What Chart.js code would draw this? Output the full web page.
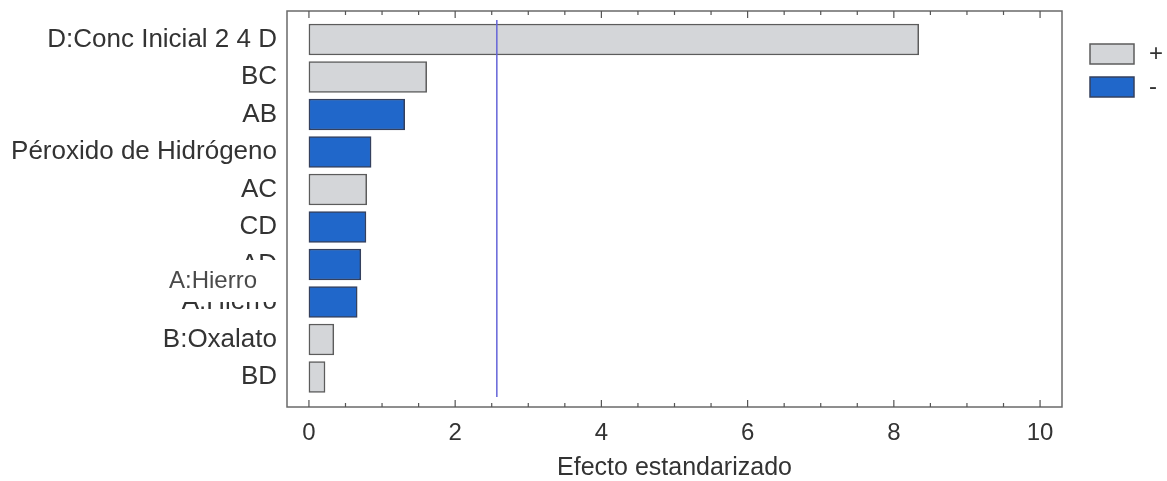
<!DOCTYPE html>
<html>
<head>
<meta charset="utf-8">
<script src="https://cdn.jsdelivr.net/npm/chart.js@4/dist/chart.umd.min.js"></script>
<style>
  html, body { margin: 0; padding: 0; background: #ffffff; }
  #wrap { width: 1167px; height: 481px; }
</style>
</head>
<body>
<div id="wrap"><canvas id="chart" width="1167" height="481"></canvas></div>
<script>
// Diagrama de Pareto estandarizado
const categories = [
  'D:Conc Inicial 2 4 D', 'BC', 'AB', 'Péroxido de Hidrógeno', 'AC',
  'CD', 'AD', 'A:Hierro', 'B:Oxalato', 'BD'
];
const effects = [8.34, 1.61, 1.31, 0.85, 0.79, 0.78, 0.71, 0.66, 0.34, 0.22];
const signs   = ['+', '+', '-', '-', '+', '-', '-', '-', '+', '+'];
const criticalValue = 2.57;
const xTickValues = [0, 2, 4, 6, 8, 10];
const xMinorStep = 0.5;
const legendLabels = ['+', '-'];
const axisTitle = 'Efecto estandarizado';
const overlayLabel = 'A:Hierro';

const FONT = "'Liberation Sans', Arial, sans-serif";
const GRAY = '#d4d6d9', GRAY_EDGE = '#5c5c5c';
const BLUE = '#2067ca', BLUE_EDGE = '#34405e';

function pointsFor(sign) {
  return effects
    .map((v, i) => ({ x: v, y: i, s: signs[i] }))
    .filter(p => p.s === sign)
    .map(p => ({ x: p.x, y: p.y }));
}

// Marco, marcas internas y línea del valor crítico
const framePlugin = {
  id: 'frame',
  afterDatasetsDraw(chart) {
    const { ctx, chartArea: a, scales: { x } } = chart;
    ctx.save();
    // línea vertical del valor crítico
    const cx = x.getPixelForValue(criticalValue);
    ctx.strokeStyle = '#6464d8';
    ctx.lineWidth = 1.5;
    ctx.beginPath();
    ctx.moveTo(cx, a.top + 9);
    ctx.lineTo(cx, a.bottom - 10);
    ctx.stroke();
    // marco
    ctx.strokeStyle = '#6a6a6a';
    ctx.lineWidth = 1.5;
    ctx.strokeRect(a.left, a.top, a.right - a.left, a.bottom - a.top);
    // marcas hacia dentro, arriba y abajo
    ctx.lineWidth = 1.2;
    ctx.strokeStyle = '#555';
    const first = xTickValues[0], last = xTickValues[xTickValues.length - 1];
    for (let v = first; v <= last + 1e-9; v += xMinorStep) {
      const px = x.getPixelForValue(v);
      const major = xTickValues.some(t => Math.abs(t - v) < 1e-9);
      const len = major ? 7 : 4;
      ctx.beginPath();
      ctx.moveTo(px, a.bottom);
      ctx.lineTo(px, a.bottom - len);
      ctx.moveTo(px, a.top);
      ctx.lineTo(px, a.top + len);
      ctx.stroke();
    }
    ctx.restore();
  },
  afterDraw(chart) {
    const { ctx } = chart;
    ctx.save();
    // leyenda
    const boxes = [
      { fill: GRAY, edge: GRAY_EDGE, label: legendLabels[0], y: 44 },
      { fill: BLUE, edge: BLUE_EDGE, label: legendLabels[1], y: 77 }
    ];
    boxes.forEach(b => {
      ctx.fillStyle = b.fill;
      ctx.fillRect(1090, b.y, 44, 20);
      ctx.strokeStyle = b.edge;
      ctx.lineWidth = 1.5;
      ctx.strokeRect(1090, b.y, 44, 20);
      ctx.fillStyle = '#333';
      ctx.font = '24px ' + FONT;
      ctx.textAlign = 'left';
      ctx.textBaseline = 'middle';
      ctx.fillText(b.label, 1149, b.y + 10);
    });
    // etiqueta superpuesta
    ctx.fillStyle = '#ffffff';
    ctx.fillRect(158, 260, 127, 42);
    ctx.fillStyle = '#4a4a4a';
    ctx.font = '24px ' + FONT;
    ctx.textAlign = 'left';
    ctx.textBaseline = 'middle';
    ctx.fillText(overlayLabel, 169, 281);
    ctx.restore();
  }
};

new Chart(document.getElementById('chart'), {
  type: 'bar',
  data: {
    datasets: [
      {
        label: legendLabels[0],
        data: pointsFor('+'),
        backgroundColor: GRAY,
        borderColor: GRAY_EDGE,
        borderWidth: 1.5,
        borderSkipped: false
      },
      {
        label: legendLabels[1],
        data: pointsFor('-'),
        backgroundColor: BLUE,
        borderColor: BLUE_EDGE,
        borderWidth: 1.5,
        borderSkipped: false
      }
    ]
  },
  options: {
    indexAxis: 'y',
    responsive: false,
    animation: false,
    layout: { padding: { top: 11, right: 105, left: 0, bottom: 0 } },
    datasets: { bar: { grouped: false, barThickness: 31 } },
    plugins: {
      legend: { display: false },
      tooltip: { enabled: false }
    },
    scales: {
      x: {
        type: 'linear',
        min: -0.3,
        max: 10.3,
        afterBuildTicks(s) { s.ticks = xTickValues.map(v => ({ value: v })); },
        afterFit(s) { s.height = 74; s.paddingLeft = 0; s.paddingRight = 0; },
        grid: { display: false, drawTicks: false, tickLength: 0 },
        border: { display: false },
        ticks: {
          font: { family: FONT, size: 24 },
          color: '#333',
          padding: 12,
          maxRotation: 0
        },
        title: {
          display: true,
          text: axisTitle,
          font: { family: FONT, size: 25, lineHeight: 1 },
          color: '#333',
          padding: { top: 0, bottom: 0 }
        }
      },
      y: {
        type: 'linear',
        reverse: true,
        offset: false,
        min: -0.76,
        max: 9.8,
        afterBuildTicks(s) { s.ticks = categories.map((c, i) => ({ value: i })); },
        afterFit(s) { s.width = 287; s.paddingTop = 0; s.paddingBottom = 0; },
        grid: { display: false, drawTicks: false, tickLength: 0, offset: false },
        border: { display: false },
        ticks: {
          font: { family: FONT, size: 26 },
          color: '#333',
          padding: 10,
          callback: (v) => categories[v] ?? ''
        }
      }
    }
  },
  plugins: [framePlugin]
});
</script>
</body>
</html>
